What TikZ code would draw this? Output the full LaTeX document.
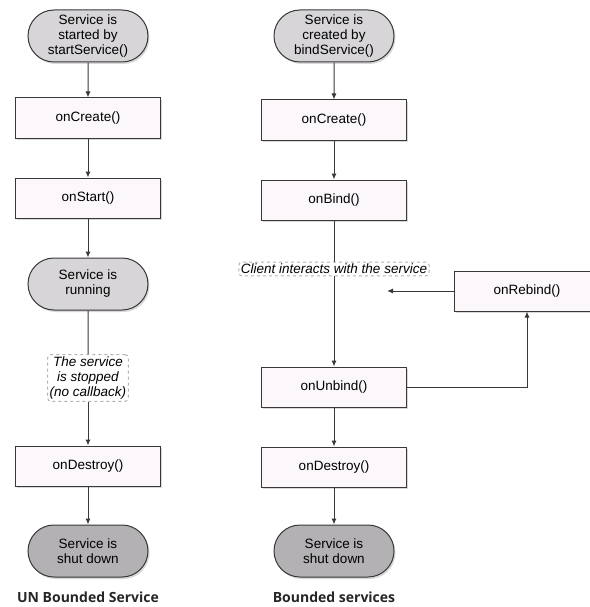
\documentclass[tikz,border=0pt]{standalone}
\usepackage{fontspec}
\setmainfont{Liberation Sans}
\newfontfamily\captionfont{Open Sans}
\usetikzlibrary{positioning,shadows,arrows.meta,shapes.misc}

\definecolor{boxfill}{HTML}{FBF7FA}
\definecolor{pillfill}{HTML}{D7D5D8}
\definecolor{endfill}{HTML}{B3B1B3}
\definecolor{edgegray}{HTML}{383838}

\tikzstyle{flowfig}=[x=1pt,y=-1pt,line width=1pt,font=\fontsize{13.5}{15}\selectfont,>={Latex[length=6pt,width=5pt]}]
\tikzstyle{callbox}=[draw=edgegray,fill=boxfill,minimum width=145pt,minimum height=40pt,drop shadow={shadow xshift=1.5pt,shadow yshift=-2pt,fill=gray!60}]
\tikzstyle{statepill}=[rounded rectangle,draw=edgegray,fill=pillfill,minimum width=124pt,minimum height=52pt,inner sep=2pt,align=center,drop shadow={shadow xshift=1.5pt,shadow yshift=-2pt,fill=gray!60}]
\tikzstyle{endpill}=[statepill,fill=endfill]
\tikzstyle{note}=[draw=gray!60,dashed,rounded corners=3pt,fill=white,inner sep=2pt,align=center,font=\itshape\fontsize{13.5}{15}\selectfont]
\tikzstyle{flow}=[draw=edgegray,->]
\tikzstyle{plain}=[draw=edgegray]
\tikzstyle{caption}=[font=\captionfont\bfseries\fontsize{14}{16}\selectfont,text=black!85]

\begin{document}
\begin{tikzpicture}[style=flowfig]
\useasboundingbox (0,0) rectangle (589,607);

% unbounded service
\node[statepill] (uStart) at (88,36) {Service is\\started by\\startService()};
\node[callbox] (uCreate) at (88,118) {onCreate()};
\node[callbox] (uOnStart) at (88,198) {onStart()};
\node[statepill] (uRunning) at (88,284) {Service is\\running};
\node[note] (uStopped) at (88,378) {The service\\is stopped\\(no callback)};
\node[callbox] (uDestroy) at (88,466) {onDestroy()};
\node[endpill] (uEnd) at (88,551) {Service is\\shut down};
\node[caption] (uCaption) at (88,597) {UN Bounded Service};

\draw[flow] (uStart) -- (uCreate);
\draw[flow] (uCreate) -- (uOnStart);
\draw[flow] (uOnStart) -- (uRunning);
\draw[plain] (uRunning) -- (uStopped);
\draw[flow] (uStopped) -- (uDestroy);
\draw[flow] (uDestroy) -- (uEnd);

% bounded services
\node[statepill] (bStart) at (334,36) {Service is\\created by\\bindService()};
\node[callbox] (bCreate) at (334,120) {onCreate()};
\node[callbox] (bBind) at (334,200) {onBind()};
\node[note] (bClient) at (334,269) {Client interacts with the service};
\node[callbox] (bRebind) at (527,291) {onRebind()};
\coordinate (bBack) at (387,291);
\node[callbox] (bUnbind) at (334,387) {onUnbind()};
\node[callbox] (bDestroy) at (334,467) {onDestroy()};
\node[endpill] (bEnd) at (334,551) {Service is\\shut down};
\node[caption] (bCaption) at (334,597) {Bounded services};

\draw[flow] (bStart) -- (bCreate);
\draw[flow] (bCreate) -- (bBind);
\draw[plain] (bBind) -- (bClient);
\draw[flow] (bClient) -- (bUnbind);
\draw[flow] (bRebind.west) -- (bBack);
\draw[flow] (bUnbind.east) -| (bRebind.south);
\draw[flow] (bUnbind) -- (bDestroy);
\draw[flow] (bDestroy) -- (bEnd);
\end{tikzpicture}
\end{document}
